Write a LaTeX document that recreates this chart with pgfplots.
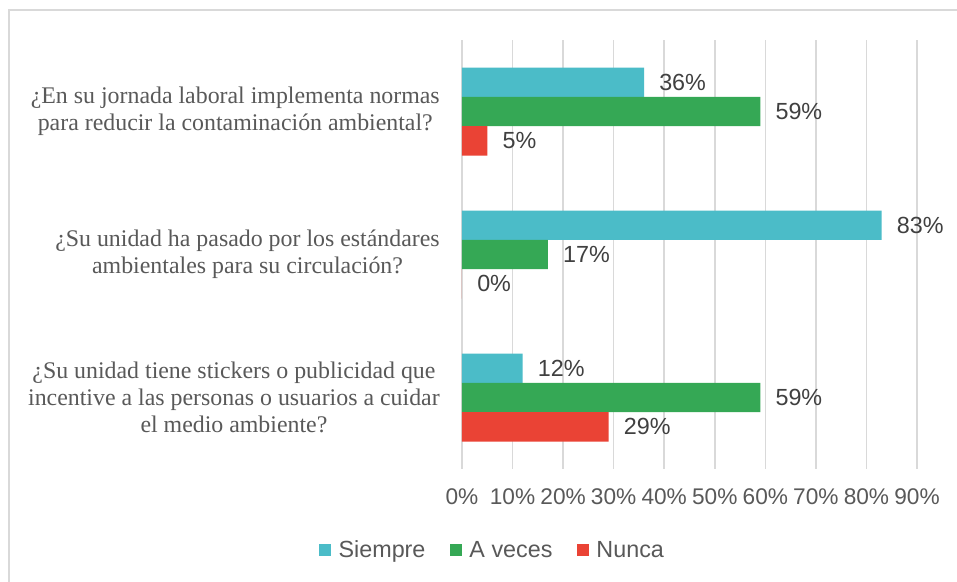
\documentclass[border=0pt]{standalone}
\usepackage{fontspec}
\setmainfont{Liberation Sans}
\newfontfamily\serifq{Liberation Serif}
\usepackage{pgfplots}
\pgfplotsset{compat=1.18}
\definecolor{siempre}{HTML}{4BBCC8}
\definecolor{aveces}{HTML}{35A855}
\definecolor{nunca}{HTML}{EA4335}
\definecolor{gridc}{HTML}{D9D9D9}
\definecolor{txt}{HTML}{595959}
\definecolor{lbl}{HTML}{404040}

\begin{document}
\begin{tikzpicture}
\useasboundingbox (0,0) rectangle (717.75pt,-436.5pt);
\fill[white] (0,0) rectangle (717.75pt,-436.5pt);
\draw[gridc, line width=1.5pt] (6.75pt,-436.5pt) -- (6.75pt,-7.5pt) -- (717.75pt,-7.5pt);
\begin{axis}[
  at={(346.5pt,-30pt)}, anchor=north west,
  scale only axis, width=341.25pt, height=321.75pt,
  xbar=0pt, bar width=22pt,
  xmin=0, xmax=90, ymin=-0.5, ymax=2.5,
  y dir=reverse,
  axis line style={draw=none},
  major tick length=0pt,
  xmajorgrids, grid style={gridc, line width=1.1pt},
  xtick={0,10,20,30,40,50,60,70,80,90},
  xticklabels={0\%,10\%,20\%,30\%,40\%,50\%,60\%,70\%,80\%,90\%},
  xticklabel style={inner sep=0pt, yshift=-14.5pt, font=\fontsize{17}{20}\selectfont, text=txt},
  ytick={0,1,2},
  yticklabels={{¿En su jornada laboral implementa normas\\para reducir la contaminación ambiental?},
               {¿Su unidad ha pasado por los estándares\\ambientales para su circulación?},
               {¿Su unidad tiene stickers o publicidad que\\incentive a las personas o usuarios a cuidar\\el medio ambiente?}},
  yticklabel style={inner sep=0pt, xshift=-16.5pt, align=center, text=txt,
    font=\serifq\fontsize{17.9}{20.25}\selectfont},
  point meta=x,
  nodes near coords={\pgfmathprintnumber[assume math mode=true]{\pgfplotspointmeta}\%},
  every node near coord/.append style={anchor=west, inner sep=0pt, xshift=11.25pt,
    text=lbl, font=\fontsize{17.5}{21}\selectfont},
  legend columns=3,
  legend cell align=left,
  legend image code/.code={\fill[#1] (0pt,-4.5pt) rectangle (9pt,4.5pt);},
  legend style={draw=none, fill=none, at={(0.068,-0.189)}, anchor=center,
    font=\fontsize{17.5}{21}\selectfont, text=txt, inner sep=0pt,
    /tikz/every even column/.append style={column sep=16.5pt},
    /tikz/every odd column/.append style={column sep=3.5pt}},
]
\addplot[fill=siempre, draw=none, bar shift=22pt] coordinates {(36,0) (83,1) (12,2)};
\addplot[fill=aveces, draw=none, bar shift=0pt] coordinates {(59,0) (17,1) (59,2)};
\addplot[fill=nunca, draw=none, bar shift=-22pt] coordinates {(5,0) (0,1) (29,2)};
\legend{Siempre, A veces, Nunca}
\end{axis}
\end{tikzpicture}
\end{document}
